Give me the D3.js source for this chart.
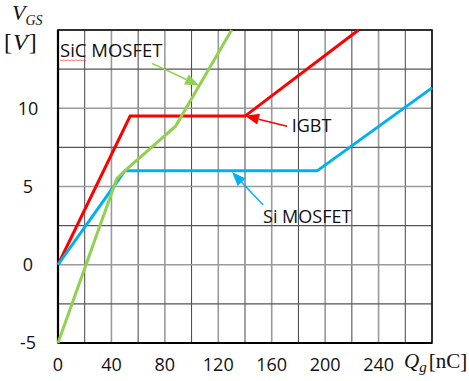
<!DOCTYPE html>
<html><head><meta charset="utf-8">
<script src="https://cdn.jsdelivr.net/npm/d3@7"></script>
<style>body{margin:0;background:#fff}svg{display:block}</style>
</head><body>
<script>
// ---- data ----
const xTicks = [0, 40, 80, 120, 160, 200, 240];
const yTicks = [-5, 0, 5, 10];
const xGrid = d3.range(0, 281, 20);
const yGrid = d3.range(-5, 15.01, 2.5);
const igbt = [[0, 0], [54, 9.5], [140, 9.5], [225, 15]];
const siMosfet = [[0, 0], [50, 6], [194, 6], [280, 11.3]];
const sicMosfet = [[0, -5], [44, 5.5], [50, 6], [88, 8.85], [130, 15]];
const seriesNames = ["IGBT", "Si MOSFET", "SiC MOSFET"];
const seriesColors = ["#FF0000", "#00B0F0", "#92D050"];
// annotation: label anchor (data units), arrow tail, arrow tip
const labelPos = [[175, 8.47], [153.5, 2.68], [1.5, 13.25]];
const arrowTail = [[171.5, 8.85], [153.6, 3.82], [70.4, 12.87]];
const arrowTip = [[140, 9.52], [130.3, 5.92], [105.6, 11.46]];

const W = 469, H = 381;
const svg = d3.select("body").append("svg").attr("width", W).attr("height", H);
const x = d3.scaleLinear().domain([0, 280]).range([58, 432]);
const y = d3.scaleLinear().domain([-5, 15]).range([343, 30]);

// grid
svg.append("g").selectAll("line").data(xGrid).join("line")
  .attr("x1", d => x(d)).attr("x2", d => x(d)).attr("y1", y(-5)).attr("y2", y(15))
  .attr("stroke", (d, i) => i % 2 ? "#444" : "#9a9a9a").attr("stroke-width", (d, i) => i % 2 ? 1 : 1.6);
svg.append("g").selectAll("line").data(yGrid).join("line")
  .attr("y1", d => y(d)).attr("y2", d => y(d)).attr("x1", x(0)).attr("x2", x(280))
  .attr("stroke", (d, i) => i % 2 ? "#555" : "#9a9a9a").attr("stroke-width", (d, i) => i % 2 ? 1.1 : 1.6);

// frame
svg.append("rect").attr("x", x(0)).attr("y", y(15)).attr("width", x(280) - x(0)).attr("height", y(-5) - y(15))
  .attr("fill", "none").attr("stroke", "#111").attr("stroke-width", 1.6);
svg.append("line").attr("x1", x(0)).attr("x2", x(0)).attr("y1", y(15)).attr("y2", y(-5)).attr("stroke", "#000").attr("stroke-width", 2.2);
svg.append("line").attr("x1", x(0)).attr("x2", x(280)).attr("y1", y(-5)).attr("y2", y(-5)).attr("stroke", "#000").attr("stroke-width", 2.2);

// tick labels
const tickFont = "'Open Sans', sans-serif";
svg.append("g").selectAll("text").data(yTicks).join("text")
  .attr("x", 28).attr("y", d => y(d)).attr("dy", "0.36em").attr("text-anchor", "middle")
  .attr("font-family", tickFont).attr("font-size", 18).attr("fill", "#111").text(d => d);
svg.append("g").selectAll("text").data(xTicks).join("text")
  .attr("x", d => x(d)).attr("y", 371).attr("text-anchor", "middle")
  .attr("font-family", tickFont).attr("font-size", 18).attr("fill", "#111").text(d => d);

// series
const line = d3.line().x(d => x(d[0])).y(d => y(d[1]));
[igbt, siMosfet, sicMosfet].forEach((s, i) => {
  svg.append("path").attr("d", line(s)).attr("fill", "none")
    .attr("stroke", seriesColors[i]).attr("stroke-width", 3).attr("stroke-linejoin", "miter");
});

// annotations
seriesNames.forEach((name, i) => {
  const t = [x(arrowTail[i][0]), y(arrowTail[i][1])];
  const p = [x(arrowTip[i][0]), y(arrowTip[i][1])];
  const ang = Math.atan2(p[1] - t[1], p[0] - t[0]);
  const L = 14, Wd = 5.5;
  const bx = p[0] - L * Math.cos(ang), by = p[1] - L * Math.sin(ang);
  svg.append("line").attr("x1", t[0]).attr("y1", t[1]).attr("x2", bx).attr("y2", by)
    .attr("stroke", seriesColors[i]).attr("stroke-width", 1.5);
  const nx = -Math.sin(ang), ny = Math.cos(ang);
  svg.append("path").attr("d", `M${p[0]},${p[1]}L${bx + nx * Wd},${by + ny * Wd}L${bx - nx * Wd},${by - ny * Wd}Z`)
    .attr("fill", seriesColors[i]);
  svg.append("text").attr("x", x(labelPos[i][0])).attr("y", y(labelPos[i][1]))
    .attr("font-family", tickFont).attr("font-size", i === 2 ? 18.5 : 18).attr("fill", "#111").text(name);
});
// spell-check squiggle under "SiC"
{
  const x0 = x(labelPos[2][0]), y0 = y(labelPos[2][1]) + 2.5;
  let d = `M${x0},${y0}`;
  for (let k = 1; k <= 13; k++) d += `L${x0 + k * 2},${y0 + (k % 2 ? 1 : 0)}`;
  svg.append("path").attr("d", d).attr("fill", "none").attr("stroke", "#e04040").attr("stroke-width", 0.7);
}

// axis titles
const serif = "'Liberation Serif', 'DejaVu Serif', serif";
const vt = svg.append("text").attr("x", 12).attr("y", 20).attr("font-family", serif).attr("fill", "#111");
vt.append("tspan").attr("font-style", "italic").attr("font-size", 22).text("V");
vt.append("tspan").attr("font-style", "italic").attr("font-size", 14).attr("dy", 5).text("GS");
const vu = svg.append("text").attr("x", 4).attr("y", 50).attr("font-family", serif).attr("font-size", 24).attr("fill", "#111");
vu.append("tspan").text("[");
vu.append("tspan").attr("font-style", "italic").attr("dx", 1).text("V");
vu.append("tspan").attr("dx", 1).text("]");
const qt = svg.append("text").attr("x", 404).attr("y", 368).attr("font-family", serif).attr("fill", "#111");
qt.append("tspan").attr("font-style", "italic").attr("font-size", 21).text("Q");
qt.append("tspan").attr("font-style", "italic").attr("font-size", 15).attr("dy", 4).text("g");
qt.append("tspan").attr("font-size", 21).attr("dy", -4).attr("dx", 2).text("[nC]");
</script>
</body></html>
